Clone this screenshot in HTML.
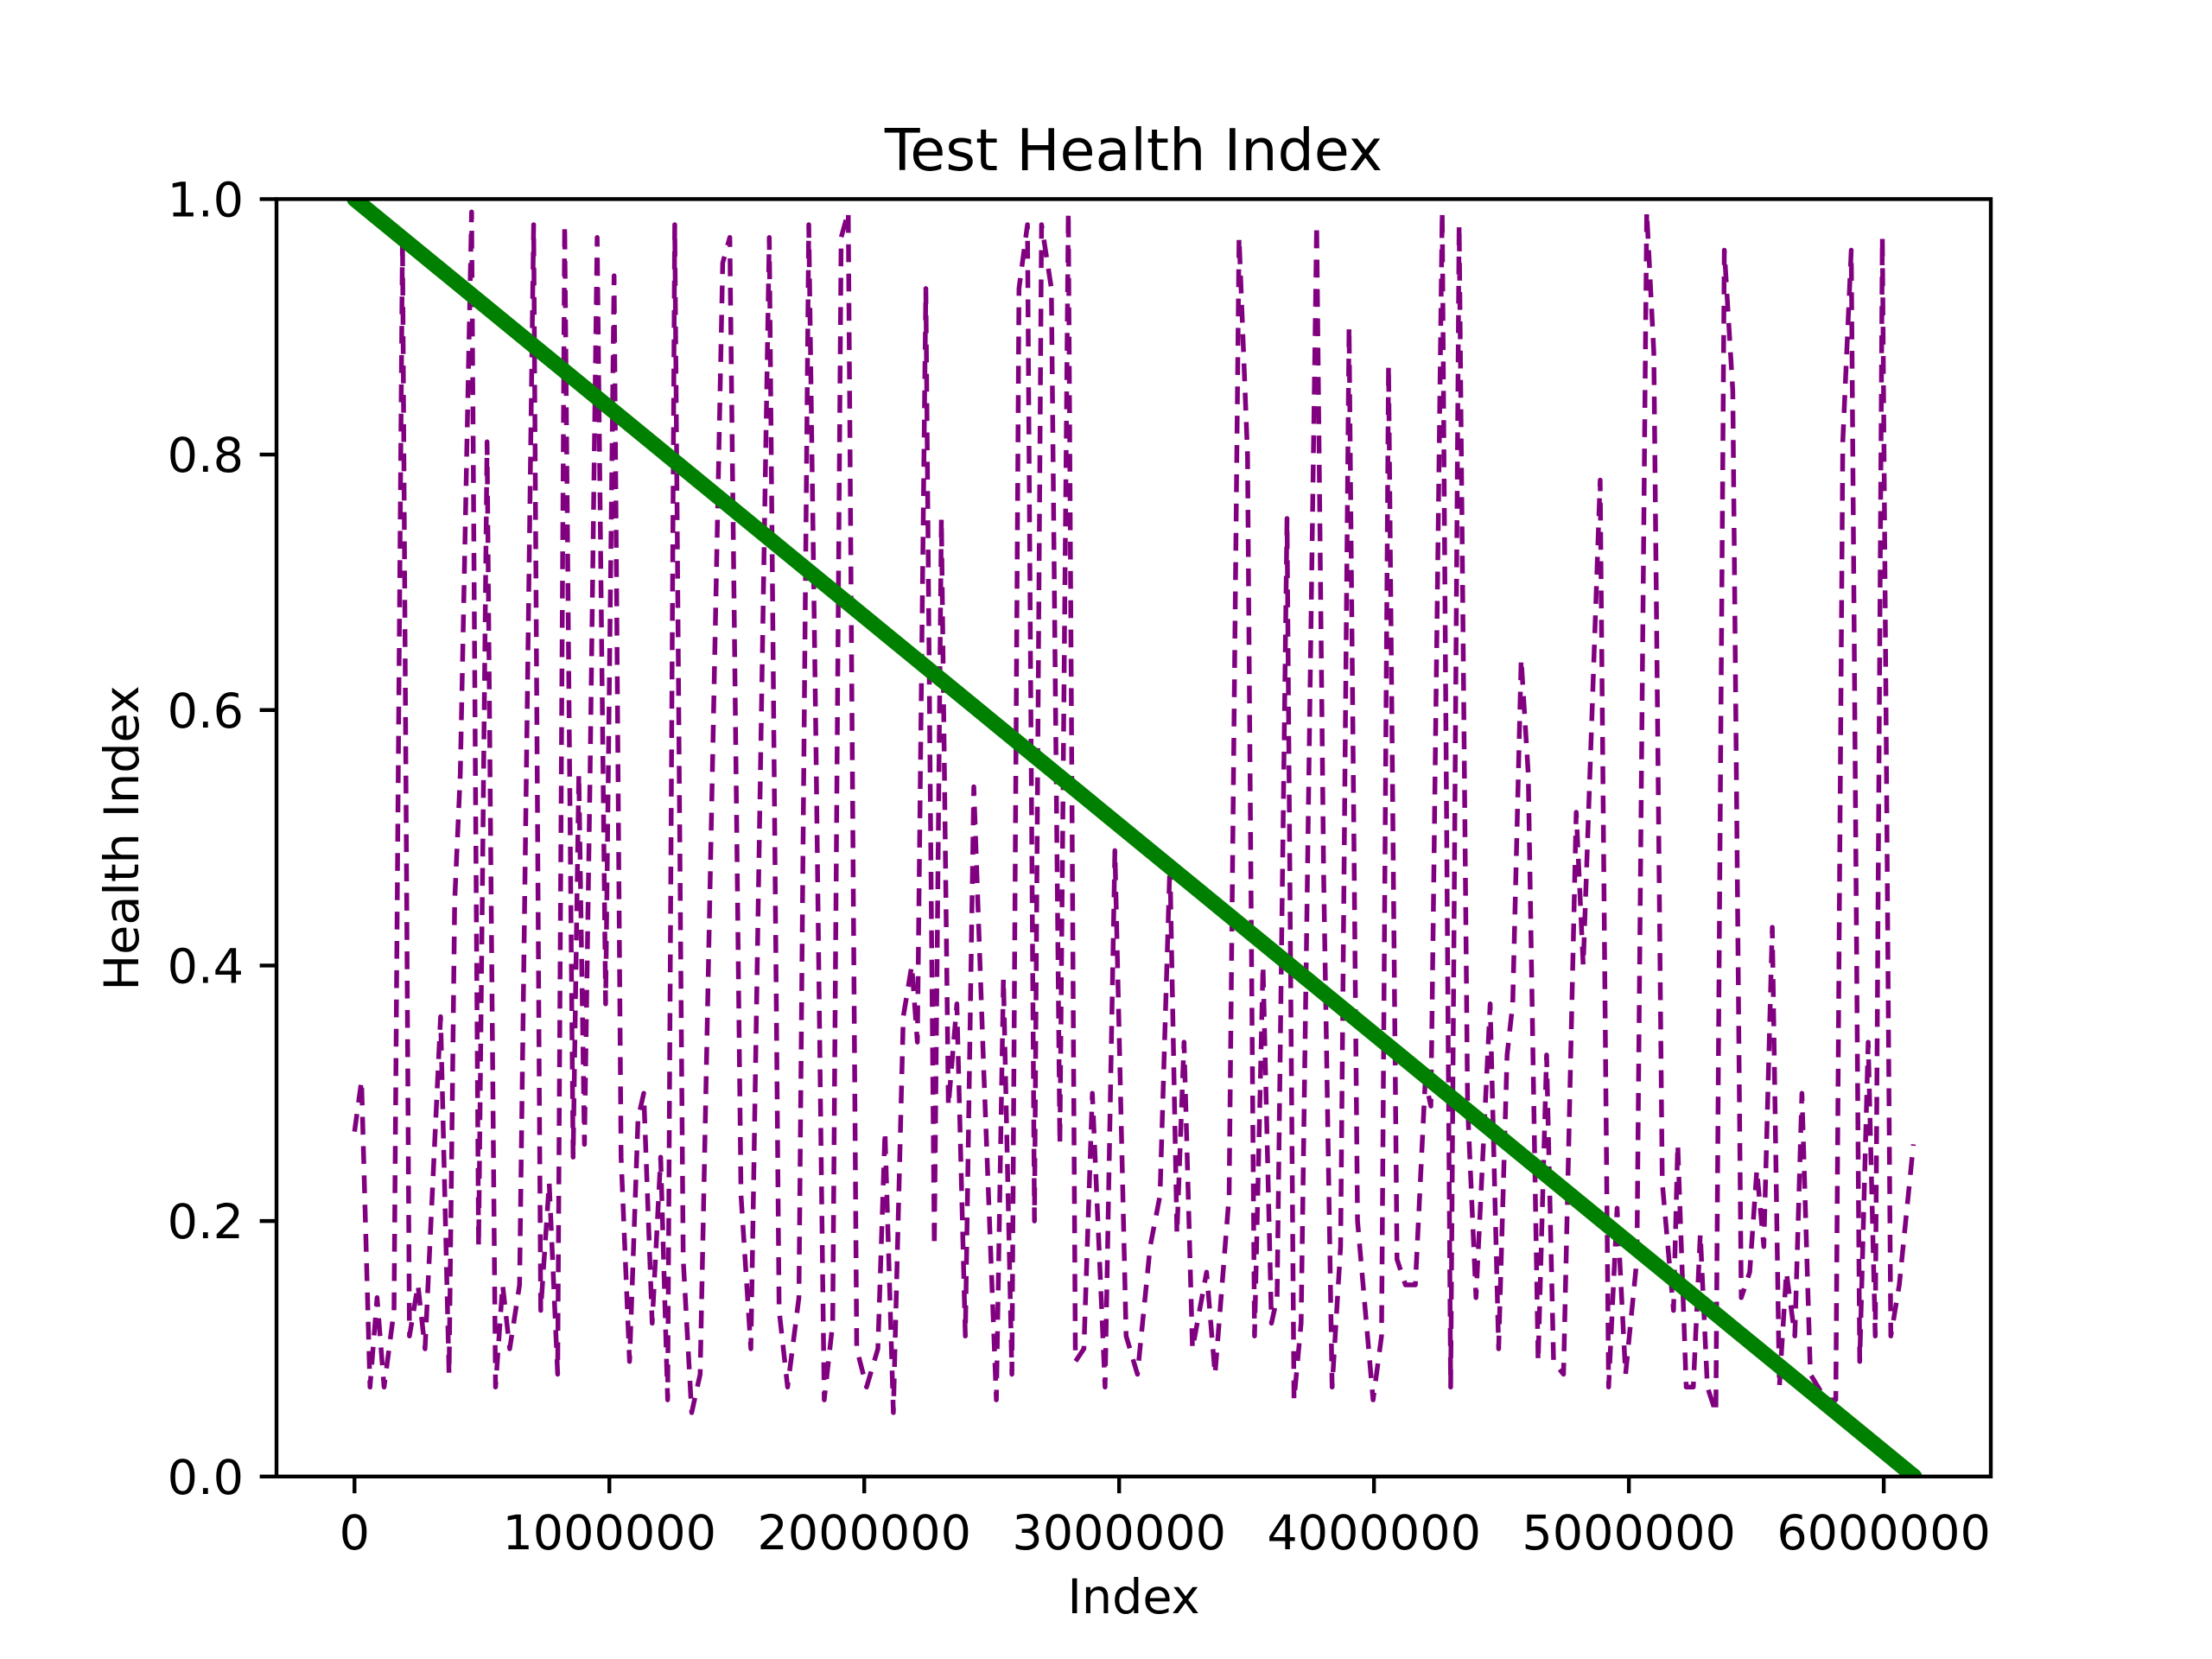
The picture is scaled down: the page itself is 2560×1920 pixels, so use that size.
<!DOCTYPE html>
<html><head><meta charset="utf-8"><style>
html,body{margin:0;padding:0;background:#fff;}
svg{display:block;font-family:"DejaVu Sans","Liberation Sans",sans-serif;}
</style></head><body>
<svg id="chart" width="2560" height="1920" viewBox="0 0 2560 1920" xmlns="http://www.w3.org/2000/svg">
<rect width="2560" height="1920" fill="#fff"/>
<text x="1312" y="197" font-size="66.7" text-anchor="middle">Test Health Index</text>
<text x="1312" y="1867" font-size="55.6" text-anchor="middle">Index</text>
<text x="160" y="970" font-size="55.6" text-anchor="middle" transform="rotate(-90 160 970)">Health Index</text>
<g id="plot"></g>
</svg>
<script>
const xTicks = [0,1000000,2000000,3000000,4000000,5000000,6000000];
const xTickLabels = ["0","1000000","2000000","3000000","4000000","5000000","6000000"];
const yTicks = [0,0.2,0.4,0.6,0.8,1.0];
const yTickLabels = ["0.0","0.2","0.4","0.6","0.8","1.0"];
const pxScreen = [251,256,262,267,272,279,285,290,296,301,312,318,322,326,334,339,345,351,356,361,368,378,383,389,395,400,406,410,414,418,423,429,435,440,446,452,456,462,468,473,478,484,490,496,512,517,525,532,545,552,558,566,573,578,584,590,596,601,607,614,622,627,633,640,646,650,656,662,667,672,678,684,690,697,706,711,717,722,728,733,738,745,751,757,762,768,774,783,790,798,806,815,822,829,834,839,845,855,861,871,878,884,889,895,901,905,912,917,922,933,938,944,950,956,962,973,979,984,990,996,1003,1010,1014,1022,1028,1034,1040,1046,1056,1062,1068,1072,1078,1083,1090,1096,1101,1108,1117,1122,1128,1134,1140,1146,1152,1160,1167,1172,1178,1186,1189,1195,1200,1205,1210,1216,1222,1228,1234,1240,1245,1250,1256,1261,1266,1272,1277,1283,1294,1301,1306,1312,1318,1324,1329,1334,1340,1346,1356];
const testIndex = pxScreen.map(v => Math.round((v-251)*5535));
const testHealth = [0.27,0.31,0.07,0.14,0.07,0.13,0.97,0.11,0.15,0.10,0.36,0.08,0.45,0.55,0.99,0.18,0.81,0.07,0.15,0.10,0.15,0.98,0.13,0.23,0.08,0.98,0.25,0.55,0.26,0.55,0.97,0.37,0.94,0.25,0.09,0.28,0.30,0.12,0.25,0.06,0.98,0.17,0.05,0.08,0.95,0.97,0.22,0.10,0.97,0.13,0.07,0.14,0.98,0.58,0.06,0.12,0.97,0.99,0.10,0.07,0.10,0.27,0.05,0.36,0.40,0.34,0.93,0.18,0.75,0.29,0.37,0.11,0.54,0.32,0.06,0.39,0.08,0.93,0.98,0.20,0.98,0.93,0.26,0.99,0.09,0.10,0.30,0.07,0.49,0.11,0.08,0.18,0.22,0.48,0.19,0.34,0.10,0.16,0.08,0.22,0.97,0.80,0.11,0.40,0.12,0.14,0.75,0.06,0.12,0.98,0.47,0.07,0.18,0.90,0.20,0.06,0.11,0.87,0.17,0.15,0.15,0.31,0.29,0.99,0.07,0.98,0.29,0.14,0.37,0.10,0.33,0.37,0.64,0.55,0.09,0.33,0.09,0.08,0.52,0.40,0.59,0.78,0.07,0.21,0.08,0.17,0.99,0.88,0.23,0.13,0.26,0.07,0.07,0.19,0.07,0.05,0.96,0.85,0.14,0.16,0.24,0.18,0.43,0.07,0.16,0.11,0.30,0.08,0.06,0.06,0.81,0.96,0.09,0.34,0.11,0.97,0.11,0.15,0.26];
const trendIndex = [0,6120000];
const trendHealth = [1.0,0.0];

const L=320,R=2304,T=230.4,B=1708.8;
const XMIN=-306000,XMAX=6420000,YMIN=0,YMAX=1;
const sx=v=>L+(v-XMIN)/(XMAX-XMIN)*(R-L);
const sy=v=>B-(v-YMIN)/(YMAX-YMIN)*(B-T);
const NS="http://www.w3.org/2000/svg";
const g=document.getElementById('plot');
function mk(tag,attrs){const e=document.createElementNS(NS,tag);for(const k in attrs)e.setAttribute(k,attrs[k]);g.appendChild(e);return e;}

const clip=document.createElementNS(NS,'clipPath');clip.setAttribute('id','cp');
const cr=document.createElementNS(NS,'rect');cr.setAttribute('x',L);cr.setAttribute('y',T);cr.setAttribute('width',R-L);cr.setAttribute('height',B-T);
clip.appendChild(cr);g.appendChild(clip);

let d='';testIndex.forEach((x,i)=>{d+=(i?'L':'M')+sx(x).toFixed(1)+' '+sy(testHealth[i]).toFixed(1);});
const p=mk('path',{d:d,fill:'none',stroke:'#800080','stroke-width':5.5,'stroke-dasharray':'20.6 13.3','stroke-linejoin':'round','clip-path':'url(#cp)'});



let d2='';trendIndex.forEach((x,i)=>{d2+=(i?'L':'M')+sx(x).toFixed(1)+' '+sy(trendHealth[i]).toFixed(1);});
const gl=mk('path',{d:d2,fill:'none',stroke:'#008000','stroke-width':18,'stroke-linecap':'round','clip-path':'url(#cp)'});



const fr=mk('rect',{x:L,y:T,width:R-L,height:B-T,fill:'none',stroke:'#000','stroke-width':4.4});



xTicks.forEach((v,i)=>{
  const x=sx(v);
  const t=mk('line',{x1:x,y1:B,x2:x,y2:B+19.4,stroke:'#000','stroke-width':4.4});
  
  
  const tx=mk('text',{x:x,y:B+84,'font-size':55.6,'text-anchor':'middle'});
  tx.textContent=xTickLabels[i];
  
  
});
yTicks.forEach((v,i)=>{
  const y=sy(v);
  const t=mk('line',{x1:L-19.4,y1:y,x2:L,y2:y,stroke:'#000','stroke-width':4.4});
  
  
  const tx=mk('text',{x:L-38,y:y+20,'font-size':55.6,'text-anchor':'end'});
  tx.textContent=yTickLabels[i];
  
  
});
</script>
</body></html>
